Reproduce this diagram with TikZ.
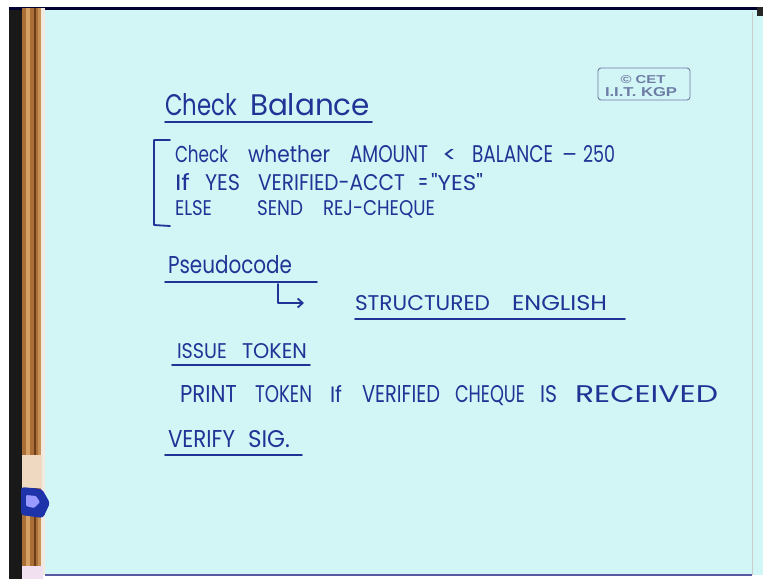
\documentclass[tikz,border=0pt]{standalone}
\usepackage{graphicx}
\usepackage{fontspec}
\setmainfont{Poppins}
\newfontfamily\qfont{Poppins}[Ligatures=TeXOff]
\newfontfamily\cetfont{Liberation Sans}
\usetikzlibrary{arrows.meta}
\definecolor{paper}{RGB}{210,245,246}
\definecolor{penblue}{RGB}{32,52,150}
\definecolor{wood}{RGB}{170,110,55}
\definecolor{woodlight}{RGB}{215,160,100}
\definecolor{wooddark}{RGB}{110,60,25}
\definecolor{clipblue}{RGB}{30,50,170}
\definecolor{cetgrey}{RGB}{110,125,165}
\newcommand{\hwWord}[3]{\resizebox{#1pt}{#2pt}{#3}}
\newcommand{\hwW}[2]{\resizebox{#1pt}{!}{#2}}
\newcommand{\hwGap}[1]{\hspace*{#1pt}}
\tikzset{
  hw/.style={inner sep=0pt, outer sep=0pt, anchor=base west, text=penblue},
  pen/.style={draw=penblue, line width=1.8pt, line cap=round, line join=round},
  cettext/.style={inner sep=0pt, text=cetgrey, font=\cetfont\bfseries}
}
\begin{document}
\begin{tikzpicture}[x=1pt,y=-1pt]
\useasboundingbox (0,0) rectangle (763,579);
% frame and board
\fill[white] (0,0) rectangle (763,579);
\fill[paper] (45,9) rectangle (763,575);
\fill[black!90] (9,7) rectangle (22,579);
\fill[black!80!blue] (9,7) rectangle (763,10);
\fill[black!85] (757,7) rectangle (763,16);
\fill[wood] (22,8) rectangle (44,566);
\fill[woodlight] (26,8) rectangle (30,566);
\fill[wooddark] (34,8) rectangle (36,566);
\fill[woodlight!70!wood] (38,8) rectangle (41,566);
\fill[white!85!wood] (41,8) rectangle (45,575);
\fill[woodlight!40!white] (22,455) rectangle (42,488);
\fill[white!88!violet] (22,566) rectangle (43,579);
\fill[clipblue, rounded corners=3pt] (21,487) -- (42,489) -- (50,503) -- (43,518) -- (21,515) -- cycle;
\fill[blue!40!white, rounded corners=1pt] (26,495) -- (36,496) -- (40,502) -- (34,508) -- (26,506) -- cycle;
\draw[gray!70!blue, line width=1.2pt] (45,575) -- (752,575);
\draw[gray!40, line width=0.8pt] (752,12) -- (752,575);
% CET logo
\draw[cetgrey, line width=0.9pt, rounded corners=3pt] (598,68) rectangle (690,100);
\node[cettext, anchor=base] (cet1) at (643,83) {\hwWord{45}{8}{© CET}};
\node[cettext, anchor=base] (cet2) at (641,96) {\hwWord{72}{9}{I.I.T. KGP}};
% heading
\node[hw] (title) at (165,115) {\hwWord{72}{22}{Check}\hwGap{13}\hwWord{120}{22}{Balance}};
\coordinate (tu1) at (165,122); \coordinate (tu2) at (372,122);
\draw[pen] (tu1) -- (tu2);
% bracket
\coordinate (b1) at (170,140); \coordinate (b2) at (154,140);
\coordinate (b3) at (154,225); \coordinate (b4) at (170,226);
\draw[pen] (b1) -- (b2) -- (b3) -- (b4);
% body lines
\node[hw] (l1) at (175,162) {\hwWord{53}{17}{Check}\hwGap{20}\hwWord{82}{17}{whether}\hwGap{20}\hwWord{78}{17}{AMOUNT}\hwGap{14}\hwWord{15}{13}{<}\hwGap{15}\hwWord{81}{17}{BALANCE}\hwGap{9}\hwW{15}{--}\hwGap{6}\hwWord{32}{17}{250}};
\node[hw] (l2) at (175,190) {\hwWord{15}{17}{If}\hwGap{15}\hwWord{35}{16}{YES}\hwGap{18}\hwWord{147}{16}{VERIFIED-ACCT}\hwGap{13}\hwWord{10}{12}{=}\hwGap{3}\hwWord{52}{17}{\qfont "YES"}};
\node[hw] (l3) at (175,215) {\hwWord{37}{15}{ELSE}\hwGap{45}\hwWord{46}{15}{SEND}\hwGap{20}\hwWord{112}{15}{REJ-CHEQUE}};
% pseudocode
\node[hw] (pseudo) at (168,273) {\hwWord{124}{18}{Pseudocode}};
\coordinate (pu1) at (165,282); \coordinate (pu2) at (317,282);
\draw[pen] (pu1) -- (pu2);
\coordinate (a1) at (278,284); \coordinate (a3) at (304,303);
\draw[pen, -{Straight Barb[length=5pt,width=9pt]}] (a1) |- (a3);
\node[hw] (se) at (355,310) {\hwWord{135}{15}{STRUCTURED}\hwGap{22}\hwWord{95}{15}{ENGLISH}};
\coordinate (su1) at (355,319); \coordinate (su2) at (625,319);
\draw[pen] (su1) -- (su2);
% issue token
\node[hw] (it) at (177,358) {\hwWord{50}{15}{ISSUE}\hwGap{15}\hwWord{65}{15}{TOKEN}};
\coordinate (iu1) at (172,365); \coordinate (iu2) at (310,365);
\draw[pen] (iu1) -- (iu2);
\node[hw] (pt) at (180,402) {\hwWord{57}{17}{PRINT}\hwGap{18}\hwWord{57}{17}{TOKEN}\hwGap{18}\hwWord{12}{17}{If}\hwGap{20}\hwWord{78}{17}{VERIFIED}\hwGap{15}\hwWord{70}{17}{CHEQUE}\hwGap{15}\hwWord{17}{17}{IS}\hwGap{18}\hwWord{143}{17}{RECEIVED}};
% verify sig
\node[hw] (vs) at (168,447) {\hwWord{67}{17}{VERIFY}\hwGap{13}\hwWord{42}{17}{SIG.}};
\coordinate (vu1) at (165,455); \coordinate (vu2) at (302,455);
\draw[pen] (vu1) -- (vu2);
\end{tikzpicture}
\end{document}
